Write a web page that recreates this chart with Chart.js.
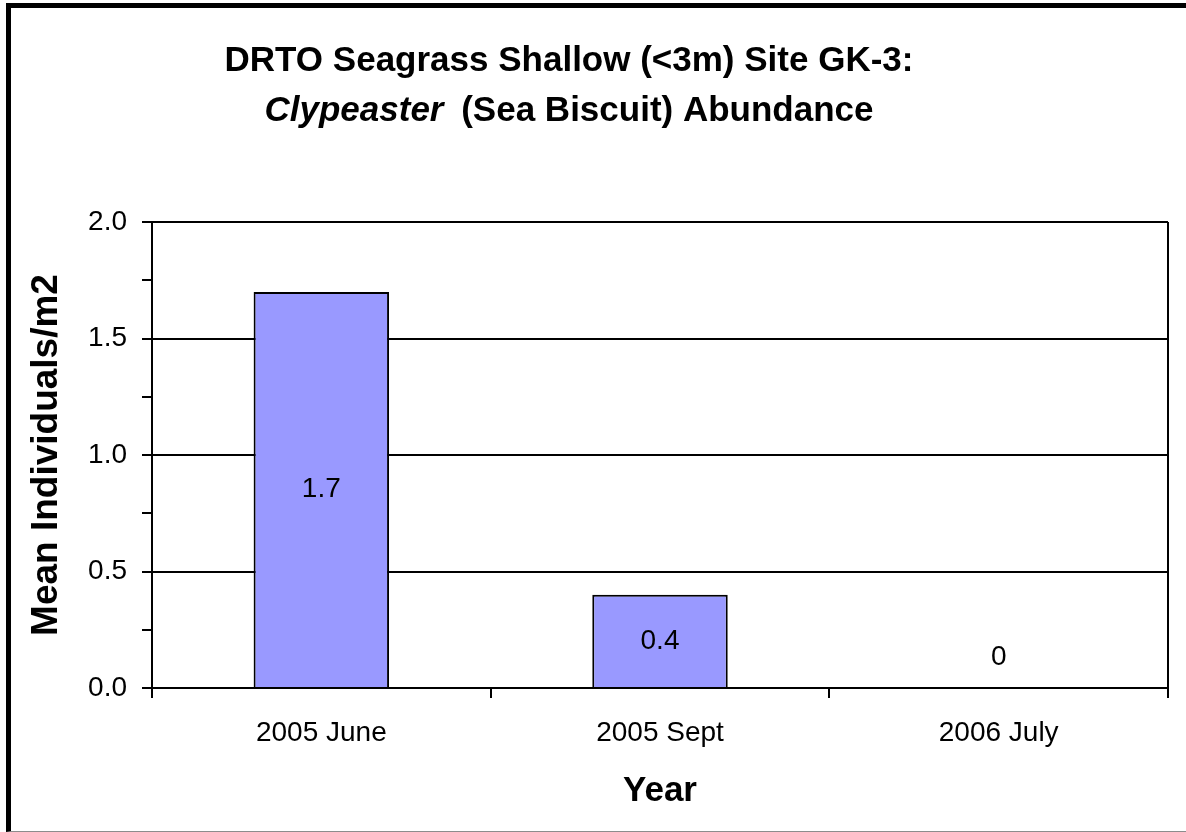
<!DOCTYPE html>
<html>
<head>
<meta charset="utf-8">
<title>Clypeaster abundance GK-3</title>
<script src="https://cdn.jsdelivr.net/npm/chart.js@4.4.0/dist/chart.umd.min.js"></script>
<style>
  html, body { margin: 0; padding: 0; background: #fff; }
  #wrap { position: relative; width: 1186px; height: 832px; overflow: hidden; }
  #frame {
    position: absolute; left: 6px; top: 3px; width: 1200px; height: 829px;
    box-sizing: border-box;
    border-left: 5px solid #000; border-top: 5px solid #000; border-bottom: 1px solid #8c8c8c;
  }
  #box { position: absolute; left: 0; top: 0; width: 1186px; height: 832px; }
</style>
</head>
<body>
<div id="wrap">
  <div id="frame"></div>
  <div id="box"><canvas id="abundanceChart"></canvas></div>
</div>
<script>
// survey data, GK-3 shallow seagrass site
const categories = ['2005 June', '2005 Sept', '2006 July'];
const abundance = [1.7, 0.4, 0];
const majorTicks = [0, 0.5, 1.0, 1.5, 2.0];

const titleLine1 = 'DRTO Seagrass Shallow (<3m) Site GK-3:';
const titleGenus = 'Clypeaster';
const titleRest = ' (Sea Biscuit) Abundance';

const FONT = '"Liberation Sans", Arial, Helvetica, sans-serif';
const TITLE_SIZE = 35;

// two-line title, second line has the italic genus name
const chartTitle = {
    id: 'chartTitle',
    afterDraw(chart) {
        const ctx = chart.ctx;
        const cx = 569;
        const bold = `bold ${TITLE_SIZE}px ${FONT}`;
        const boldItalic = `italic bold ${TITLE_SIZE}px ${FONT}`;
        ctx.save();
        ctx.fillStyle = '#000';
        ctx.textBaseline = 'alphabetic';
        ctx.textAlign = 'center';
        ctx.font = bold;
        ctx.fillText(titleLine1, cx, 71);

        ctx.textAlign = 'left';
        ctx.font = boldItalic;
        const w1 = ctx.measureText(titleGenus).width;
        ctx.font = bold;
        const w2 = ctx.measureText(titleRest).width;
        const gap = 8;
        const x = cx - (w1 + gap + w2) / 2;
        ctx.font = boldItalic;
        ctx.fillText(titleGenus, x, 121);
        ctx.font = bold;
        ctx.fillText(titleRest, x + w1 + gap, 121);
        ctx.restore();
    }
};

// value labels centred in each bar
const barLabels = {
    id: 'barLabels',
    afterDatasetsDraw(chart) {
        const ctx = chart.ctx;
        const meta = chart.getDatasetMeta(0);
        ctx.save();
        ctx.font = `28px ${FONT}`;
        ctx.fillStyle = '#000';
        ctx.textAlign = 'center';
        ctx.textBaseline = 'middle';
        meta.data.forEach((bar, i) => {
            const v = abundance[i];
            const y = Math.min((bar.y + bar.base) / 2, bar.base - 31);
            ctx.fillText(v === 0 ? '0' : v.toFixed(1), bar.x, y);
        });
        ctx.restore();
    }
};

new Chart(document.getElementById('abundanceChart'), {
    type: 'bar',
    data: {
        labels: categories,
        datasets: [{
            data: abundance,
            backgroundColor: '#9999ff',
            borderColor: '#000',
            borderWidth: 2,
            categoryPercentage: 1,
            barPercentage: 0.4
        }]
    },
    options: {
        responsive: true,
        maintainAspectRatio: false,
        animation: false,
        layout: { padding: { top: 222, right: 18, bottom: 0, left: 0 } },
        plugins: { legend: { display: false }, tooltip: { enabled: false } },
        scales: {
            x: {
                afterFit: (scale) => { scale.height = 144; },
                border: { display: true, color: '#000', width: 2 },
                grid: {
                    offset: true,
                    lineWidth: 2,
                    tickLength: 10,
                    tickWidth: 2,
                    tickColor: '#000',
                    // only the right-hand edge of the plot gets a line
                    color: (c) => (c.index === undefined ? '#000' : 'rgba(0,0,0,0)')
                },
                ticks: { color: '#000', font: { family: FONT, size: 28 }, padding: 18, maxRotation: 0 },
                title: {
                    display: true, text: 'Year', color: '#000',
                    font: { family: FONT, size: 35, weight: 'bold' },
                    padding: { top: 0, bottom: 20 }
                }
            },
            y: {
                min: 0,
                max: 2,
                afterFit: (scale) => { scale.width = 152; },
                border: { display: true, color: '#000', width: 2 },
                grid: {
                    lineWidth: 2,
                    tickLength: 10,
                    tickWidth: 2,
                    tickColor: '#000',
                    color: (c) => (majorTicks.includes(c.tick.value) ? '#000' : 'rgba(0,0,0,0)')
                },
                ticks: {
                    stepSize: 0.25,
                    color: '#000',
                    padding: 15,
                    font: { family: FONT, size: 28 },
                    callback: (v) => (majorTicks.includes(v) ? v.toFixed(1) : '')
                },
                title: {
                    display: true, text: 'Mean Individuals/m2', color: '#000',
                    font: { family: FONT, size: 37, weight: 'bold' },
                    padding: { top: 25, bottom: 0 }
                }
            }
        }
    },
    plugins: [chartTitle, barLabels]
});
</script>
</body>
</html>
